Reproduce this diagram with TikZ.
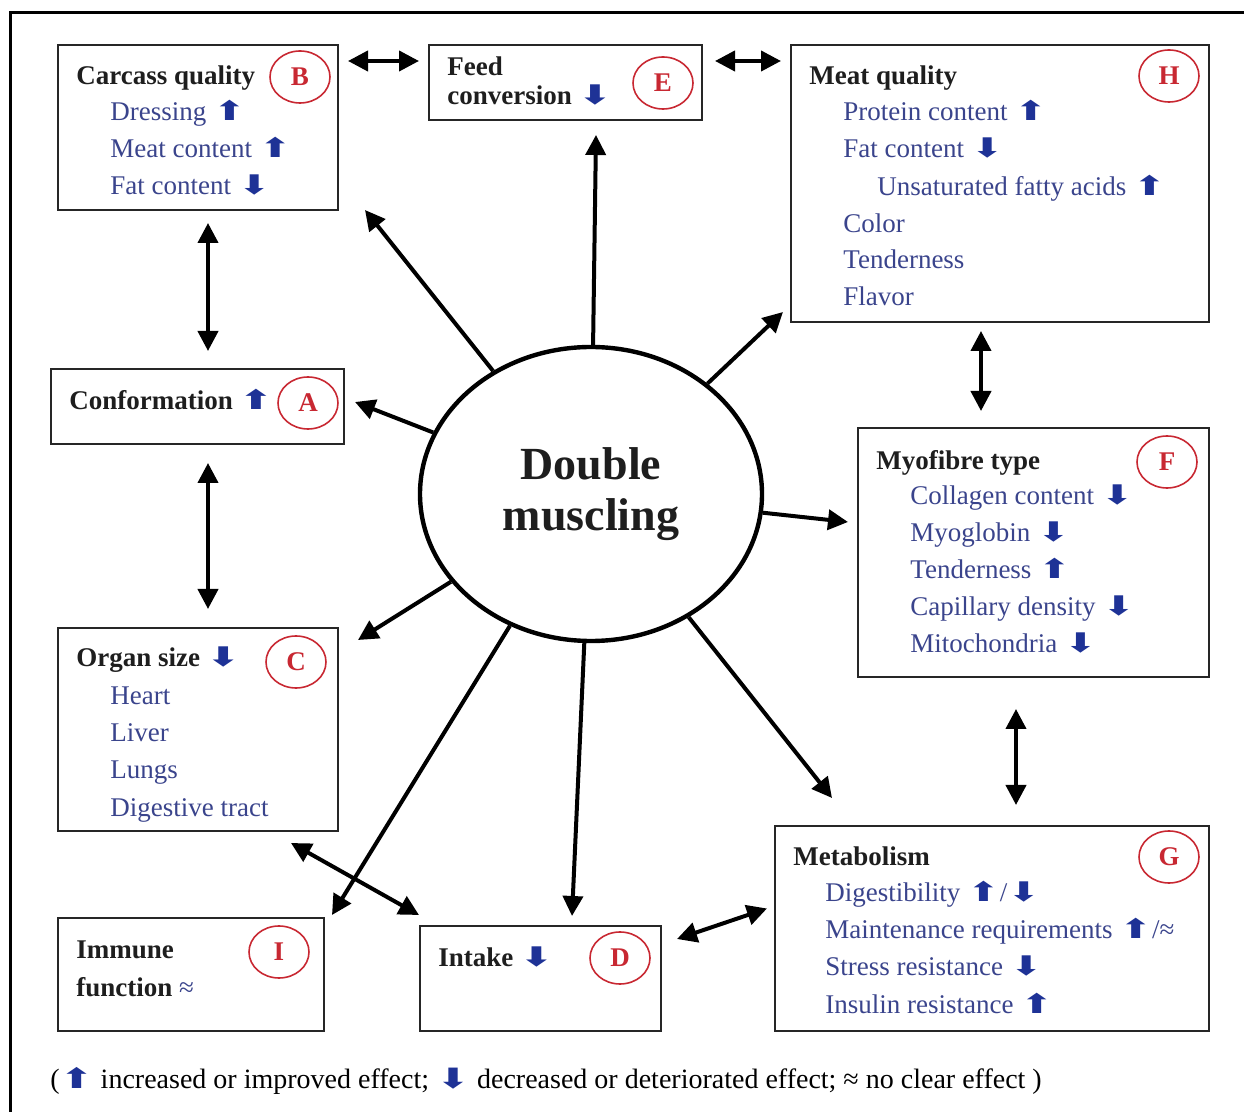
\documentclass[tikz,border=0pt]{standalone}
\usepackage{fontspec}
\usepackage{graphicx}
\setmainfont{Liberation Serif}
\newfontfamily\symfont{DejaVu Sans}
\usetikzlibrary{shapes.geometric, arrows.meta, calc}
\definecolor{itemblue}{RGB}{58,68,140}
\definecolor{arrblue}{RGB}{30,50,150}
\definecolor{tagred}{RGB}{200,40,50}
\definecolor{headgray}{RGB}{30,30,30}
\newcommand{\up}{{\symfont\color{arrblue}\scalebox{1.45}[1]{\char"2B06}}}
\newcommand{\dn}{{\symfont\color{arrblue}\scalebox{1.45}[1]{\char"2B07}}}

\begin{document}
\begin{tikzpicture}[x=0.5pt, y=-0.5pt,
        box/.style={rectangle, draw=black!85, line width=1pt, inner sep=0pt},
        head/.style={anchor=base west, inner sep=0pt, font=\fontsize{13.5}{16}\selectfont\bfseries, text=headgray},
        item/.style={anchor=base west, inner sep=0pt, font=\fontsize{13.5}{16}\selectfont, text=itemblue},
        tag/.style={ellipse, draw=tagred, line width=0.8pt, minimum width=30pt, minimum height=26pt, inner sep=0pt, font=\fontsize{13.5}{16}\selectfont\bfseries, text=tagred},
        hub/.style={ellipse, draw=black, line width=2.2pt, minimum width=171pt, minimum height=147pt, align=center, font=\fontsize{23}{25.5}\selectfont\bfseries, text=headgray},
        link/.style={-{Triangle[length=10pt, width=10pt]}, line width=2pt},
        both/.style={{Triangle[length=10pt, width=10pt]}-{Triangle[length=10pt, width=10pt]}, line width=2pt}
    ]
        \useasboundingbox (0,0) rectangle (1244,1112);
        \draw[line width=1.5pt] (10,1112) -- (10,13) -- (1244,13);

        \node[box, minimum width=140pt, minimum height=82.5pt] (B) at (198,127.5) {};
        \node[box, minimum width=136.5pt, minimum height=37.5pt] (E) at (565.5,82.5) {};
        \node[box, minimum width=209pt, minimum height=138.5pt] (H) at (1000,183.5) {};
        \node[box, minimum width=146.5pt, minimum height=37.5pt] (A) at (197.5,406.5) {};
        \node[box, minimum width=175.5pt, minimum height=124.5pt] (F) at (1033.5,552.5) {};
        \node[box, minimum width=140pt, minimum height=101.5pt] (C) at (198,729.5) {};
        \node[box, minimum width=217pt, minimum height=102.5pt] (G) at (992,928.5) {};
        \node[box, minimum width=133pt, minimum height=56.5pt] (I) at (191,974.5) {};
        \node[box, minimum width=120.5pt, minimum height=52.5pt] (D) at (540.5,978.5) {};
        \node[hub] (dm) at (591,494) {Double\\muscling};

        \node[head] (Bh) at (76,85) {Carcass quality};
        \foreach \t [count=\i] in {Dressing \up, Meat content \up, Fat content \dn}
            \node[item] (B\i) at (110,{84+37*\i}) {\t};
        \node[tag] (Bt) at (300,77) {B};

        \node[head] (Eh) at (447,76) {Feed};
        \node[head] (Eh2) at (447,105) {conversion \dn};
        \node[tag] (Et) at (663,83) {E};

        \node[head] (Hh) at (809,85) {Meat quality};
        \node[item] (H1) at (843,121) {Protein content \up};
        \node[item] (H2) at (843,158) {Fat content \dn};
        \node[item] (H3) at (877,196) {Unsaturated fatty acids \up};
        \node[item] (H4) at (843,233) {Color};
        \node[item] (H5) at (843,269) {Tenderness};
        \node[item] (H6) at (843,306) {Flavor};
        \node[tag] (Ht) at (1169,76) {H};

        \node[head] (Ah) at (69,410) {Conformation \up};
        \node[tag] (At) at (308,403) {A};

        \node[head] (Fh) at (876,470) {Myofibre type};
        \foreach \t [count=\i] in {Collagen content \dn, Myoglobin \dn, Tenderness \up, Capillary density \dn, Mitochondria \dn}
            \node[item] (F\i) at (910,{468+37*\i}) {\t};
        \node[tag] (Ft) at (1167,462) {F};

        \node[head] (Ch) at (76,667) {Organ size \dn};
        \foreach \t [count=\i] in {Heart, Liver, Lungs, Digestive tract}
            \node[item] (C\i) at (110,{667+37.3*\i}) {\t};
        \node[tag] (Ct) at (296,662) {C};

        \node[head] (Gh) at (793,865) {Metabolism};
        \foreach \t [count=\i] in {Digestibility \up/\dn, Maintenance requirements \up/≈, Stress resistance \dn, Insulin resistance \up}
            \node[item] (G\i) at (825,{864+37.3*\i}) {\t};
        \node[tag] (Gt) at (1169,857) {G};

        \node[head] (Ih) at (76,958) {Immune};
        \node[head] (Ih2) at (76,996) {function {\mdseries\color{itemblue}≈}};
        \node[tag] (It) at (279,952) {I};

        \node[head] (Dh) at (438,966) {Intake \dn};
        \node[tag] (Dt) at (620,958) {D};

        \node[anchor=base west, inner sep=0pt, font=\fontsize{14}{16}\selectfont] (key) at (50,1088)
            {(\up\ increased or improved effect; \dn\ decreased or deteriorated effect; ≈ no clear effect )};

        \coordinate (tB) at (365,210);
        \coordinate (tE) at (596,135);
        \coordinate (tH) at (783,312);
        \coordinate (tA) at (355,402);
        \coordinate (tF) at (848,522);
        \coordinate (tC) at (358,640);
        \coordinate (tI) at (332,915);
        \coordinate (tD) at (572,916);
        \coordinate (tG) at (832,798);
        \foreach \t in {tB,tE,tH,tA,tF,tC,tI,tD,tG}
            \draw[link] (dm) -- (\t);

        \draw[both] ($(B.north east)+(9,17)$) -- ($(E.north west)+(-9,17)$);
        \draw[both] ($(E.north east)+(12,17)$) -- ($(H.north west)+(-9,17)$);
        \draw[both] ($(B.south)+(10,12)$) -- ($(A.north)+(10.5,-17)$);
        \draw[both] ($(A.south)+(10.5,18)$) -- ($(C.north)+(10,-18)$);
        \draw[both] ($(H.south)+(-19,8)$) -- ($(F.north)+(-52.5,-16)$);
        \draw[both] ($(F.south)+(-17.5,31)$) -- ($(G.north)+(24,-20)$);
        \draw[both] ($(C.south east)+(-48,11)$) -- ($(D.north west)+(0,-10)$);
        \draw[both] ($(D.north east)+(15,14)$) -- ($(G.west)+(-7,-20)$);
    \end{tikzpicture}
\end{document}
